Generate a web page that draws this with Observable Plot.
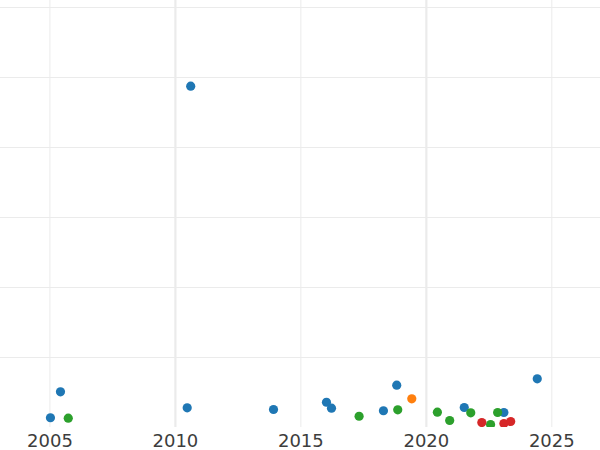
<!DOCTYPE html>
<html>
<head>
<meta charset="utf-8">
<script src="https://cdn.jsdelivr.net/npm/d3@7"></script>
<script src="https://cdn.jsdelivr.net/npm/@observablehq/plot@0.6"></script>
<style>
  html, body { margin: 0; padding: 0; background: #fff; }
  #chart svg { display: block; }
</style>
</head>
<body>
<div id="chart"></div>
<script>
// Series values (year, value)
const seriesAYears  = [2005.02, 2005.42, 2010.47, 2010.61, 2013.91, 2016.02, 2016.22, 2018.29, 2018.82, 2021.51, 2023.09, 2024.42];
const seriesAValues = [13.9, 51.0, 28.1, 487.6, 25.7, 36.1, 27.6, 23.9, 60.4, 28.6, 21.4, 69.6];
const seriesBYears  = [2019.42];
const seriesBValues = [41.0];
const seriesCYears  = [2005.73, 2017.32, 2018.86, 2020.44, 2020.93, 2021.77, 2022.56, 2022.84];
const seriesCValues = [13.3, 16.1, 25.3, 21.9, 10.0, 21.0, 4.3, 21.4];
const seriesDYears  = [2022.21, 2023.09, 2023.36];
const seriesDValues = [7.1, 5.7, 8.6];

const xTicks = [2005, 2010, 2015, 2020, 2025];
const yGrid  = [100, 200, 300, 400, 500, 600];

const seriesNames  = ["Series A", "Series B", "Series C", "Series D"];
const seriesColors = ["#1f77b4", "#ff7f0e", "#2ca02c", "#d62728"];

const rows = [];
[[seriesAYears, seriesAValues, seriesNames[0]], [seriesBYears, seriesBValues, seriesNames[1]],
 [seriesCYears, seriesCValues, seriesNames[2]], [seriesDYears, seriesDValues, seriesNames[3]]].forEach(([ys, vs, s]) => {
  ys.forEach((y, i) => rows.push({year: y, value: vs[i], series: s}));
});

const chart = Plot.plot({
  width: 600,
  height: 450,
  marginLeft: 0,
  marginRight: 0,
  marginTop: 0,
  marginBottom: 23,
  style: {fontFamily: "DejaVu Sans", fontSize: "18px", color: "#3d3d3d", background: "#fff"},
  x: {domain: [2003.03, 2026.94], label: null},
  y: {domain: [0, 610], axis: null},
  color: {type: "ordinal", domain: seriesNames, range: seriesColors},
  marks: [
    Plot.ruleY(yGrid, {stroke: "#ebebeb", strokeWidth: 1}),
    Plot.ruleX(xTicks, {stroke: "#ebebeb", strokeWidth: d => (d % 10 === 0 ? 2.2 : 1)}),
    Plot.axisX({ticks: xTicks, tickFormat: d => String(d), tickSize: 0, tickPadding: 7, label: null, fontSize: 18, fill: "#3d3d3d"}),
    Plot.dot(rows, {x: "year", y: "value", fill: "series", r: 4.6, stroke: "none", clip: true})
  ]
});
document.getElementById("chart").appendChild(chart);
</script>
</body>
</html>
